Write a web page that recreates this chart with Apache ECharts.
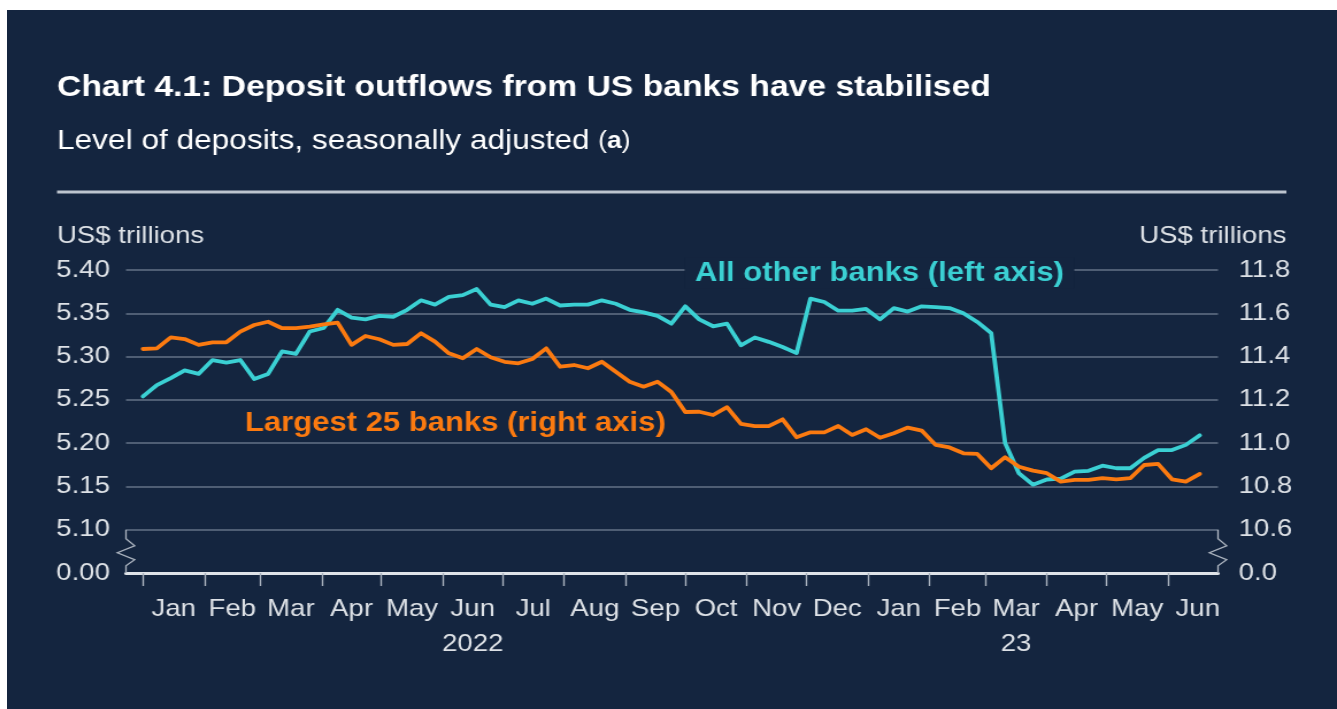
<!DOCTYPE html>
<html>
<head>
<meta charset="utf-8">
<title>Chart 4.1: Deposit outflows from US banks have stabilised</title>
<script src="https://cdn.jsdelivr.net/npm/echarts@6/dist/echarts.min.js"></script>
<style>
  html, body { margin: 0; padding: 0; background: #ffffff; width: 1337px; height: 709px; overflow: hidden; }
  #panel { position: absolute; left: 7px; top: 10px; width: 1330px; height: 699px; background: #14253f; overflow: hidden; }
  /* the chart is laid out on a narrower canvas and widened to fill the panel */
  #chart { position: absolute; left: 0; top: 0; width: 1157px; height: 699px; transform: scaleX(1.1495); transform-origin: 0 0; }
</style>
</head>
<body>
<div id="panel"><div id="chart"></div></div>
<script>
// ---- data: weekly levels of deposits, US$ trillions, seasonally adjusted ----
const firstWeek = '2022-01-01';

// All other banks (left axis)
const allOtherBanks = [
  5.254, 5.267, 5.275, 5.284, 5.280, 5.296, 5.293, 5.296, 5.274, 5.280,
  5.306, 5.303, 5.329, 5.333, 5.354, 5.345, 5.343, 5.347, 5.346, 5.354,
  5.365, 5.360, 5.369, 5.371, 5.378, 5.360, 5.357, 5.365, 5.361, 5.367,
  5.359, 5.360, 5.360, 5.365, 5.361, 5.354, 5.351, 5.347, 5.338, 5.358,
  5.343, 5.335, 5.338, 5.313, 5.322, 5.317, 5.311, 5.304, 5.367, 5.363,
  5.353, 5.353, 5.355, 5.343, 5.356, 5.352, 5.358, 5.357, 5.356, 5.350,
  5.340, 5.327, 5.200, 5.165, 5.152, 5.158, 5.159, 5.167, 5.168, 5.174,
  5.171, 5.171, 5.183, 5.192, 5.192, 5.198, 5.209
];

// Largest 25 banks (right axis)
const largest25Banks = [
  11.435, 11.438, 11.489, 11.481, 11.454, 11.466, 11.466, 11.515, 11.546, 11.561,
  11.531, 11.531, 11.538, 11.549, 11.557, 11.454, 11.495, 11.480, 11.454, 11.458,
  11.508, 11.469, 11.415, 11.392, 11.435, 11.397, 11.376, 11.369, 11.389, 11.438,
  11.353, 11.361, 11.346, 11.376, 11.330, 11.284, 11.261, 11.284, 11.236, 11.144,
  11.145, 11.130, 11.166, 11.089, 11.079, 11.079, 11.110, 11.027, 11.050, 11.050,
  11.079, 11.038, 11.064, 11.025, 11.046, 11.072, 11.058, 10.992, 10.980, 10.953,
  10.950, 10.884, 10.935, 10.891, 10.873, 10.861, 10.822, 10.830, 10.830, 10.838,
  10.833, 10.838, 10.899, 10.904, 10.833, 10.822, 10.858
];

// x-axis labels
const monthNames = ['Jan', 'Feb', 'Mar', 'Apr', 'May', 'Jun', 'Jul', 'Aug', 'Sep', 'Oct', 'Nov', 'Dec'];
const yearLabels = { '2022-5': '2022', '2023-2': '23' };   // printed under Jun 2022 and Mar 2023
const firstMonth = [2022, 0];
const lastMonth = [2023, 5];

// y-axis labels for the broken bottom of each scale
const leftBreakLabel = '0.00';
const rightBreakLabel = '0.0';

// ---- layout (px on the chart canvas) ----
const W = 1157, H = 699;
const GL = 103.5, GR = 103.5, GT = 260, GB = 136;
const GH = H - GT - GB;
const BG = '#14253f';
const CYAN = '#3bd0d3';
const ORANGE = '#fb7a10';
const TEXT = '#dde1e6';
const FONT = '"Liberation Sans", Arial, Helvetica, sans-serif';

const DAY = 86400000;
const t0 = Date.parse(firstWeek + 'T00:00:00Z');
const weeks = allOtherBanks.map((_, i) => t0 + i * 7 * DAY);

const monthStarts = [];
for (let y = firstMonth[0], m = firstMonth[1]; y < lastMonth[0] || (y === lastMonth[0] && m <= lastMonth[1]); ) {
  monthStarts.push(Date.UTC(y, m, 1));
  m++; if (m > 11) { m = 0; y++; }
}
const monthMids = monthStarts.map(t => {
  const d = new Date(t);
  const next = Date.UTC(d.getUTCFullYear(), d.getUTCMonth() + 1, 1);
  return (t + next) / 2;
});

const X_MIN = Date.UTC(2021, 11, 23, 11);
const X_MAX = Date.UTC(2023, 5, 26, 4);

function monthLabel(v) {
  const d = new Date(v);
  const key = d.getUTCFullYear() + '-' + d.getUTCMonth();
  const name = monthNames[d.getUTCMonth()];
  return yearLabels[key] ? name + '\n' + yearLabels[key] : name;
}

// zig-zag marks where each value scale is broken between 0 and its lowest gridline
function breakMark(x) {
  const yTop = GT + GH * 6 / 7;
  const yBot = GT + GH;
  const a = 7.5;
  return {
    type: 'polyline', z: 50, silent: true,
    shape: { points: [
      [x, yTop], [x, yTop + 9], [x + a, yTop + 16], [x - a, yTop + 23],
      [x + a, yTop + 30], [x, yTop + 36], [x, yBot]
    ] },
    style: { stroke: '#aeb6c1', lineWidth: 1.3, fill: null }
  };
}

const chart = echarts.init(document.getElementById('chart'), null, { renderer: 'canvas', width: W, height: H });

const axisLabelStyle = { color: TEXT, fontSize: 24, fontFamily: FONT };

chart.setOption({
  animation: false,
  backgroundColor: 'transparent',
  grid: { left: GL, right: GR, top: GT, bottom: GB, outerBoundsMode: 'none' },
  xAxis: {
    type: 'value',
    min: X_MIN,
    max: X_MAX,
    axisLine: { show: true, onZero: false, lineStyle: { color: '#dfe3e8', width: 3 } },
    axisTick: { show: true, customValues: monthStarts, length: 13, lineStyle: { color: '#a9b2be', width: 1.4 } },
    axisLabel: Object.assign({
      customValues: monthMids,
      formatter: monthLabel,
      margin: 19,
      lineHeight: 35,
      align: 'center'
    }, axisLabelStyle),
    splitLine: { show: false }
  },
  yAxis: [
    {
      type: 'value', position: 'left', min: 5.05, max: 5.40, interval: 0.05,
      axisLine: { show: false }, axisTick: { show: false },
      splitLine: { show: true, lineStyle: { color: '#4f5e74', width: 2 } },
      axisLabel: Object.assign({
        margin: 14,
        formatter: v => (v < 5.075 ? leftBreakLabel : v.toFixed(2))
      }, axisLabelStyle)
    },
    {
      type: 'value', position: 'right', min: 10.4, max: 11.8, interval: 0.2,
      axisLine: { show: false }, axisTick: { show: false },
      splitLine: { show: false },
      axisLabel: Object.assign({
        margin: 18,
        formatter: v => (v < 10.5 ? rightBreakLabel : v.toFixed(1))
      }, axisLabelStyle)
    }
  ],
  series: [
    {
      name: 'All other banks (left axis)',
      type: 'line', yAxisIndex: 0, showSymbol: false, symbol: 'none',
      lineStyle: { color: CYAN, width: 3.8, join: 'round', cap: 'round' },
      data: weeks.map((t, i) => [t, allOtherBanks[i]])
    },
    {
      name: 'Largest 25 banks (right axis)',
      type: 'line', yAxisIndex: 1, showSymbol: false, symbol: 'none',
      lineStyle: { color: ORANGE, width: 3.8, join: 'round', cap: 'round' },
      data: weeks.map((t, i) => [t, largest25Banks[i]])
    }
  ],
  graphic: [
    {
      type: 'text', z: 100, silent: true, x: 43.5, y: 77.7,
      style: { text: 'Chart 4.1: Deposit outflows from US banks have stabilised',
        fill: '#ffffff', font: 'bold 29.3px ' + FONT, verticalAlign: 'middle' }
    },
    {
      type: 'text', z: 100, silent: true, x: 43.5, y: 131.6,
      style: {
        text: 'Level of deposits, seasonally adjusted {p|(}{b|a}{p|)}',
        fill: '#ffffff', font: '27.5px ' + FONT, verticalAlign: 'middle',
        rich: {
          p: { fill: '#ffffff', fontSize: 23, fontFamily: FONT },
          b: { fill: '#ffffff', fontSize: 23, fontWeight: 'bold', fontFamily: FONT }
        }
      }
    },
    {
      type: 'line', z: 100, silent: true,
      shape: { x1: 43.5, y1: 182, x2: 1113, y2: 182 },
      style: { stroke: '#bcc4ce', lineWidth: 3 }
    },
    {
      type: 'text', z: 100, silent: true, x: 43.5, y: 226,
      style: { text: 'US$ trillions', fill: TEXT, font: '24px ' + FONT, verticalAlign: 'middle' }
    },
    {
      type: 'text', z: 100, silent: true, x: 1113, y: 226,
      style: { text: 'US$ trillions', fill: TEXT, font: '24px ' + FONT, verticalAlign: 'middle', align: 'right' }
    },
    {
      type: 'text', z: 100, silent: true, x: 759, y: 263.3,
      style: { text: 'All other banks (left axis)', fill: CYAN, font: 'bold 27px ' + FONT,
        align: 'center', verticalAlign: 'middle', backgroundColor: BG, padding: [2, 9] }
    },
    {
      type: 'text', z: 100, silent: true, x: 207, y: 413.3,
      style: { text: 'Largest 25 banks (right axis)', fill: ORANGE, font: 'bold 27px ' + FONT,
        verticalAlign: 'middle' }
    },
    breakMark(GL),
    breakMark(W - GR)
  ]
});
</script>
</body>
</html>
